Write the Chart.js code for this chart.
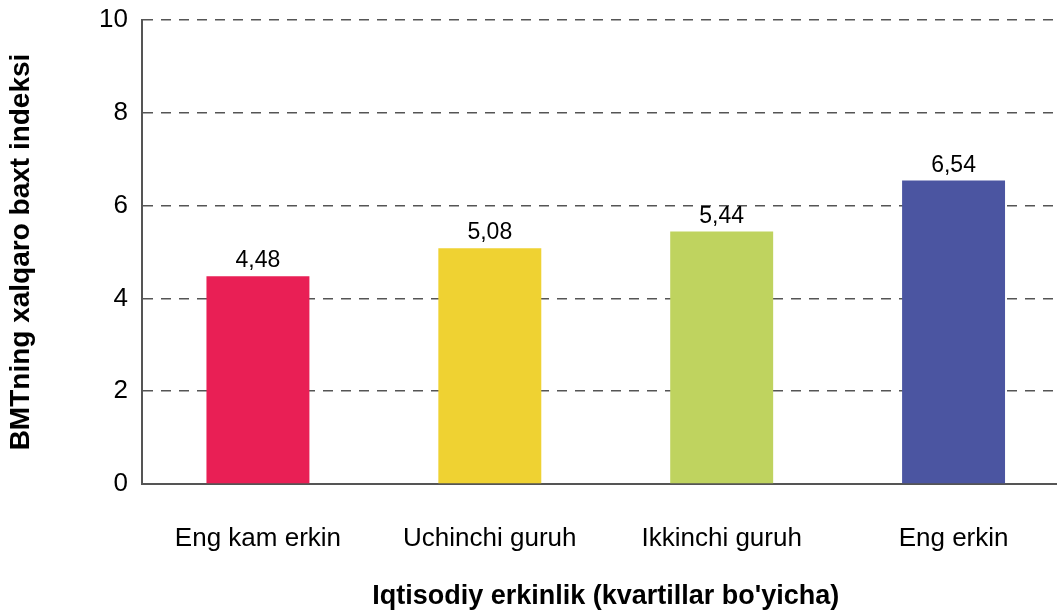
<!DOCTYPE html>
<html>
<head>
<meta charset="utf-8">
<script src="https://cdn.jsdelivr.net/npm/chart.js@4/dist/chart.umd.min.js"></script>
<style>
  html, body { margin: 0; padding: 0; background: #fff; overflow: hidden; }
  #wrap { width: 1072px; height: 610px; position: relative; }
</style>
</head>
<body>
<div id="wrap"><canvas id="myChart"></canvas></div>
<script>
// data
const categories = ['Eng kam erkin', 'Uchinchi guruh', 'Ikkinchi guruh', 'Eng erkin']
const values = [4.48, 5.08, 5.44, 6.54]
const barColors = ['#E91F55', '#EFD232', '#BFD35F', '#4B55A1']
const yTicks = [0, 2, 4, 6, 8, 10]
const xTitle = "Iqtisodiy erkinlik (kvartillar bo'yicha)"
const yTitle = 'BMTning xalqaro baxt indeksi'

const FONT = "'Liberation Sans', Arial, Helvetica, sans-serif"

// value labels over the bars
const valueLabels = {
  id: 'valueLabels',
  afterDatasetsDraw(chart) {
    const ctx = chart.ctx
    const meta = chart.getDatasetMeta(0)
    ctx.save()
    ctx.font = '23px ' + FONT
    ctx.fillStyle = '#000'
    ctx.textAlign = 'center'
    ctx.textBaseline = 'alphabetic'
    meta.data.forEach((bar, i) => {
      ctx.fillText(values[i].toFixed(2).replace('.', ','), bar.x, bar.y - 9)
    })
    ctx.restore()
  }
}

const ctx = document.getElementById('myChart').getContext('2d')
const chart = new Chart(ctx, {
  type: 'bar',
  data: {
    labels: categories,
    datasets: [{
      data: values,
      backgroundColor: barColors,
      borderWidth: 0,
      barPercentage: 0.444,
      categoryPercentage: 1
    }]
  },
  options: {
    responsive: true,
    maintainAspectRatio: false,
    animation: false,
    layout: { padding: { top: 20, left: 7, right: 2.5, bottom: 0 } },
    plugins: { legend: { display: false }, tooltip: { enabled: false } },
    scales: {
      x: {
        grid: { display: false, drawTicks: false },
        border: { display: true, color: '#555', width: 2 },
        ticks: { color: '#000', font: { family: FONT, size: 26 }, padding: 39 },
        title: { display: true, text: xTitle, color: '#000', font: { family: FONT, size: 27, weight: 'bold', lineHeight: 1 }, padding: 0 },
        afterFit(scale) { scale.height = 126 }
      },
      y: {
        min: 0,
        max: 10,
        afterBuildTicks(scale) { scale.ticks = yTicks.map(v => ({ value: v })) },
        grid: { color: '#555', lineWidth: 1.5, drawTicks: false },
        border: { display: true, color: '#555', width: 2, dash: [10, 8] },
        ticks: { color: '#000', font: { family: FONT, size: 26 }, padding: 14 },
        title: { display: true, text: yTitle, color: '#000', font: { family: FONT, size: 28, weight: 'bold', lineHeight: 1 }, padding: 0 },
        afterFit(scale) {
          scale.width = 135
          scale.paddingTop = 0
          scale.paddingBottom = 0
        }
      }
    }
  },
  plugins: [valueLabels]
})
</script>
</body>
</html>
